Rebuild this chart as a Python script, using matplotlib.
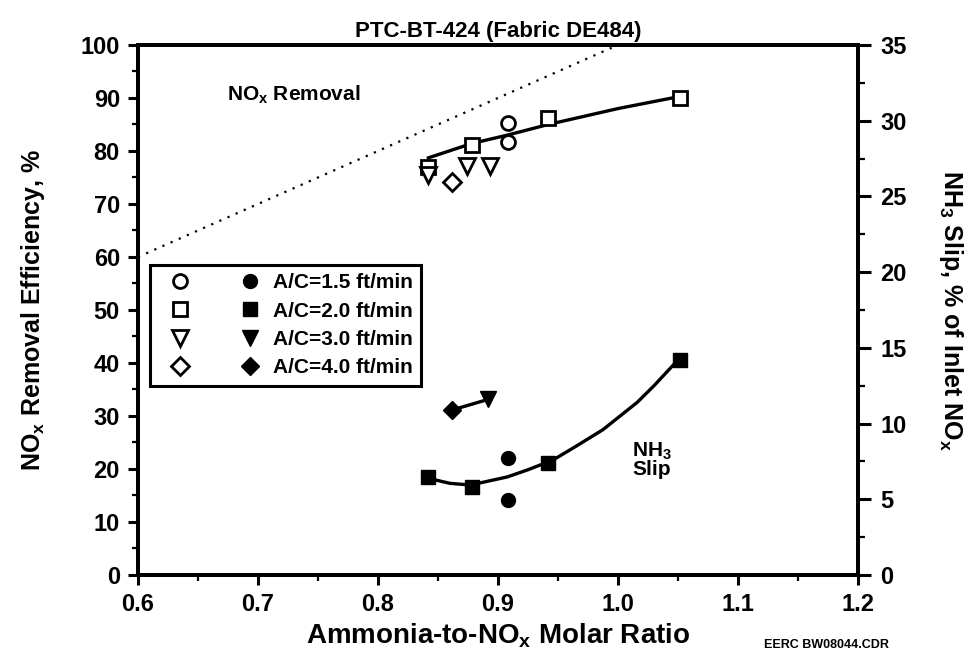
import numpy as np
import matplotlib.pyplot as plt
from matplotlib.ticker import MultipleLocator
from matplotlib.legend_handler import HandlerTuple

plt.rcParams['font.family'] = ['Liberation Sans', 'DejaVu Sans']
plt.rcParams['mathtext.fontset'] = 'custom'
plt.rcParams['mathtext.rm'] = 'Liberation Sans:bold'
plt.rcParams['mathtext.it'] = 'Liberation Sans:bold'

# NOx removal (left axis, open markers)
ac15_x = [0.908, 0.908]
ac15_nox = [85.3, 81.7]
ac20_x = [0.842, 0.878, 0.942, 1.052]
ac20_nox = [77.0, 81.1, 86.2, 90.0]
ac30_x = [0.842, 0.874, 0.893]
ac30_nox = [75.5, 77.2, 77.2]
ac40_x = [0.862]
ac40_nox = [74.2]

# NH3 slip (right axis, filled markers)
ac15_slip = [7.7, 4.95]
ac20_slip = [6.45, 5.8, 7.4, 14.2]
ac30_slip_x = [0.892]
ac30_slip = [11.6]
ac40_slip_x = [0.862]
ac40_slip = [10.9]

# curves
nox_curve_x = [0.842, 0.878, 0.908, 0.942, 1.0, 1.052]
nox_curve_y = [78.7, 81.4, 83.0, 85.0, 88.0, 90.3]
slip_curve_x = [0.841, 0.86, 0.877, 0.9075, 0.925, 0.946, 0.965, 0.9875, 1.016, 1.03, 1.05]
slip_curve_y = [6.4, 6.05, 5.94, 6.47, 6.95, 7.6, 8.5, 9.6, 11.4, 12.5, 14.2]
stoich_x = [0.6, 1.0]
stoich_y = [60, 100]

labels = ['A/C=1.5 ft/min', 'A/C=2.0 ft/min', 'A/C=3.0 ft/min', 'A/C=4.0 ft/min']

fig = plt.figure(figsize=(9.68, 6.59), dpi=100)
ax = fig.add_axes([0.1426, 0.1275, 0.7438, 0.8043])
ax2 = ax.twinx()

ms = 10
mew = 2
ax.plot(stoich_x, stoich_y, linestyle=(0, (1, 3)), color='black', lw=1.6)
ax.plot(nox_curve_x, nox_curve_y, '-', color='black', lw=2.4)
h1, = ax.plot(ac15_x, ac15_nox, 'o', ms=ms, mfc='white', mec='black', mew=mew, ls='none')
h2, = ax.plot(ac20_x, ac20_nox, 's', ms=ms, mfc='white', mec='black', mew=mew, ls='none')
h3, = ax.plot(ac30_x, ac30_nox, 'v', ms=ms + 1, mfc='white', mec='black', mew=mew, ls='none')
h4, = ax.plot(ac40_x, ac40_nox, 'D', ms=ms - 1, mfc='white', mec='black', mew=mew, ls='none')

ax2.plot(slip_curve_x, slip_curve_y, '-', color='black', lw=2.4)
ax2.plot(ac40_slip_x + ac30_slip_x, ac40_slip + ac30_slip, '-', color='black', lw=2.4)
f1, = ax2.plot(ac15_x, ac15_slip, 'o', ms=ms, color='black', ls='none')
f2, = ax2.plot(ac20_x, ac20_slip, 's', ms=ms, color='black', ls='none')
f3, = ax2.plot(ac30_slip_x, ac30_slip, 'v', ms=ms + 1, color='black', ls='none')
f4, = ax2.plot(ac40_slip_x, ac40_slip, 'D', ms=ms - 1, color='black', ls='none')

ax.set_xlim(0.6, 1.2)
ax.set_ylim(0, 100)
ax2.set_ylim(0, 35)
ax.xaxis.set_major_locator(MultipleLocator(0.1))
ax.xaxis.set_minor_locator(MultipleLocator(0.05))
ax.yaxis.set_major_locator(MultipleLocator(10))
ax.yaxis.set_minor_locator(MultipleLocator(5))
ax2.yaxis.set_major_locator(MultipleLocator(5))
ax2.yaxis.set_minor_locator(MultipleLocator(2.5))
ax.xaxis.set_major_formatter(lambda v, p: f'{v:.1f}')

for a in (ax, ax2):
    for s in a.spines.values():
        s.set_linewidth(2.8)
ax.tick_params(which='major', length=7, width=2.2, labelsize=17, direction='out', pad=6)
ax.tick_params(which='minor', length=4, width=1.6, direction='out')
ax2.tick_params(which='major', length=9, width=2.2, labelsize=17, direction='out', pad=7)
ax2.tick_params(which='minor', length=5, width=1.6, direction='out')
for lab in ax.get_xticklabels() + ax.get_yticklabels() + ax2.get_yticklabels():
    lab.set_fontweight('bold')

ax.set_xlabel('Ammonia-to-NO$_x$ Molar Ratio', fontsize=20, fontweight='bold', labelpad=4)
ax.set_ylabel('NO$_x$ Removal Efficiency, %', fontsize=18, fontweight='bold', labelpad=24)
ax2.set_ylabel('NH$_3$ Slip, % of Inlet NO$_x$', fontsize=18, fontweight='bold',
               rotation=270, va='bottom', labelpad=22)
ax.set_title('PTC-BT-424 (Fabric DE484)', fontsize=16, fontweight='bold', pad=6)

ax.text(0.73, 90.5, 'NO$_x$ Removal', fontsize=15, fontweight='bold', ha='center', va='center')
ax2.text(1.028, 7.6, 'NH$_3$\nSlip', fontsize=15, fontweight='bold', ha='center', va='center',
         linespacing=0.85)
fig.text(0.854, 0.021, 'EERC BW08044.CDR', fontsize=9, fontweight='bold', ha='center', va='center')

leg = ax.legend([(h1, f1), (h2, f2), (h3, f3), (h4, f4)], labels,
                handler_map={tuple: HandlerTuple(ndivide=None, pad=1.28)},
                loc='upper left', bbox_to_anchor=(0.0167, 0.585), borderaxespad=0,
                fancybox=False, edgecolor='black', framealpha=1, handlelength=5.44,
                handletextpad=0.05, labelspacing=0.45, borderpad=0.4,
                prop={'size': 15, 'weight': 'bold'})
leg.get_frame().set_linewidth(2.2)
leg.set_zorder(5)

plt.savefig('out.png', dpi=100)
